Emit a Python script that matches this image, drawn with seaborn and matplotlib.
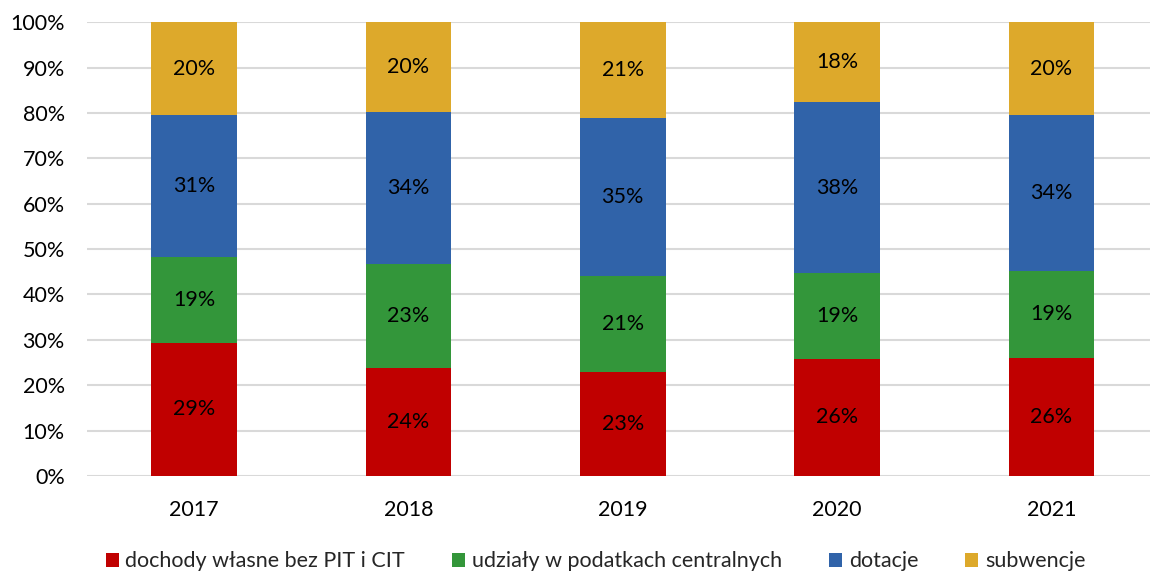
import matplotlib
matplotlib.use('Agg')
import matplotlib.pyplot as plt
from matplotlib.patches import Patch
from matplotlib.ticker import FuncFormatter
import seaborn as sns
import pandas as pd
import numpy as np

# dane (udział w %)
years = ['2017', '2018', '2019', '2020', '2021']
categories = ['dochody własne bez PIT i CIT', 'udziały w podatkach centralnych', 'dotacje', 'subwencje']
dochody = [29.4, 23.9, 23.0, 25.8, 26.1]
udzialy = [18.8, 22.8, 21.1, 18.9, 19.1]
dotacje = [31.4, 33.6, 34.9, 37.7, 34.4]
subwencje = [20.4, 19.7, 21.0, 17.6, 20.4]
colors = ['#C00000', '#33963A', '#3063A9', '#DDA92B']

sns.set_theme(style='white')
plt.rcParams['font.family'] = ['Lato', 'DejaVu Sans']
plt.rcParams['font.size'] = 15.5

fig = plt.figure(figsize=(11.5, 5.71), dpi=100)
ax = fig.add_axes([0.0757, 0.1664, 0.9317, 0.7946])

series = [dochody, udzialy, dotacje, subwencje]
bottom = np.zeros(len(years))
for name, vals, col in zip(categories, series, colors):
    df = pd.DataFrame({'rok': years, 'udzial': vals})
    sns.barplot(data=df, x='rok', y='udzial', color=col, saturation=1, width=0.4,
                bottom=bottom.copy(), errorbar=None, linewidth=0, ax=ax, zorder=3)
    bottom += np.array(vals)

for cont, vals in zip(ax.containers, series):
    ax.bar_label(cont, labels=[f'{round(v):.0f}%' for v in vals], label_type='center',
                 fontsize=15.5, color='black')

ax.set_ylim(0, 100)
ax.set_yticks(range(0, 101, 10))
ax.yaxis.set_major_formatter(FuncFormatter(lambda v, p: f'{v:.0f}%'))
ax.grid(axis='y', color='#D9D9D9', linewidth=1.5, zorder=0)
ax.set_axisbelow(True)
for s in ax.spines.values():
    s.set_visible(False)
ax.tick_params(axis='both', length=0, labelsize=15.5, colors='black')
ax.tick_params(axis='y', pad=16)
ax.tick_params(axis='x', pad=17)
ax.set_xlabel('')
ax.set_ylabel('')

handles = [Patch(facecolor=c, edgecolor='none') for c in colors]
fig.legend(handles, categories, loc='center', bbox_to_anchor=(0.518, 0.017), ncol=4,
           frameon=False, fontsize=15.5, handlelength=0.6, handleheight=0.6,
           handletextpad=0.3, columnspacing=2.2)

fig.savefig('out.png', dpi=100)
